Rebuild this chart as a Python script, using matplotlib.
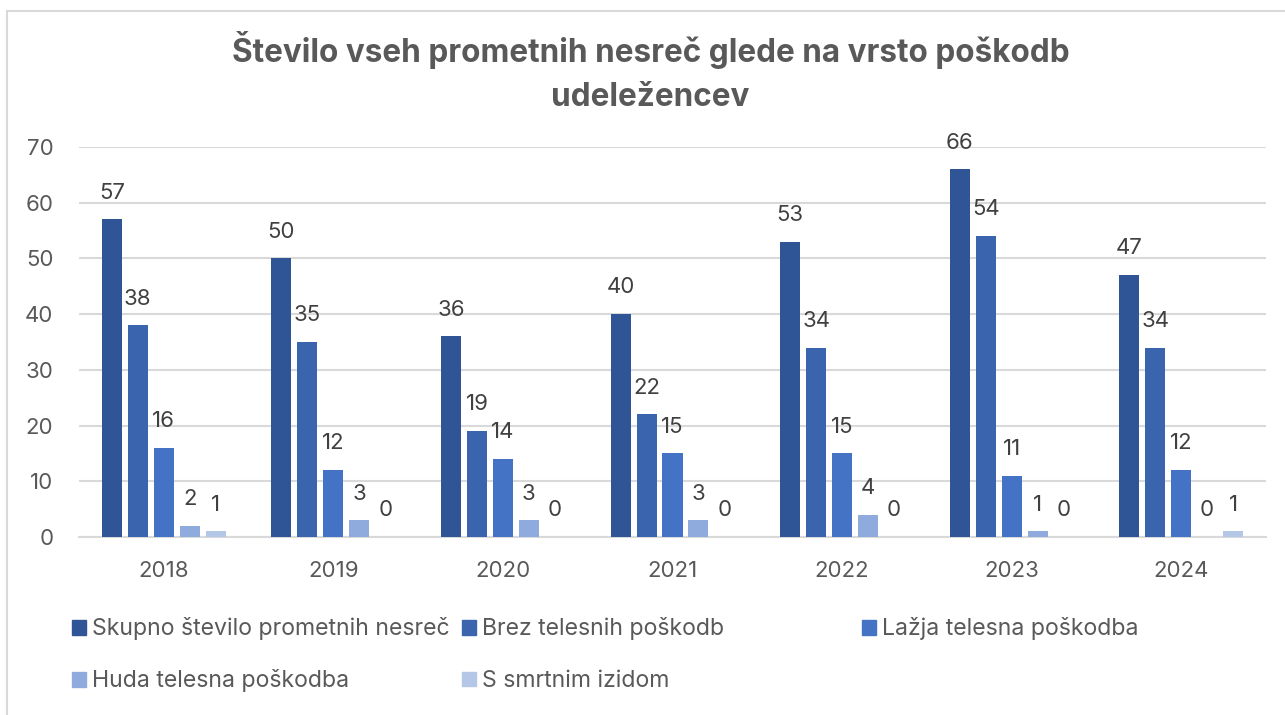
import numpy as np
import matplotlib.pyplot as plt
from matplotlib.patches import Patch, Rectangle

# podatki
leta = ['2018', '2019', '2020', '2021', '2022', '2023', '2024']
skupno = [57, 50, 36, 40, 53, 66, 47]
brez_poskodb = [38, 35, 19, 22, 34, 54, 34]
lazja = [16, 12, 14, 15, 15, 11, 12]
huda = [2, 3, 3, 3, 4, 1, 0]
smrtni = [1, 0, 0, 0, 0, 0, 1]

serije = ['Skupno število prometnih nesreč', 'Brez telesnih poškodb',
          'Lažja telesna poškodba', 'Huda telesna poškodba', 'S smrtnim izidom']
barve = ['#2F5597', '#3A64AE', '#4472C4', '#8FAADC', '#B4C7E7']

plt.rcParams['font.family'] = ['Inter', 'DejaVu Sans']

fig = plt.figure(figsize=(12.85, 7.15), dpi=100)
ax = fig.add_axes([79 / 1285, 1 - 537 / 715, (1266 - 79) / 1285, (537 - 147) / 715])

x = np.arange(len(leta))
sirina = 0.118
korak = 0.153
for i, (vals, barva) in enumerate(zip([skupno, brez_poskodb, lazja, huda, smrtni], barve)):
    pos = x + (i - 2) * korak
    bars = ax.bar(pos, vals, width=sirina, color=barva, zorder=3)
    ax.bar_label(bars, padding=12, fontsize=16, color='#404040')

ax.set_xlim(-0.5, len(leta) - 0.5)
ax.set_ylim(0, 70)
ax.set_yticks(range(0, 71, 10))
ax.set_xticks(x)
ax.set_xticklabels(leta)
ax.tick_params(axis='both', length=0, labelsize=16, labelcolor='#595959')
ax.tick_params(axis='y', pad=18.5)
ax.tick_params(axis='x', pad=17)
ax.grid(axis='y', color='#D9D9D9', linewidth=1.5, zorder=0)
for s in ['top', 'right', 'left']:
    ax.spines[s].set_visible(False)
ax.spines['bottom'].set_color('#D9D9D9')
ax.spines['bottom'].set_linewidth(1.5)

fig.text(0.5062, 1 - 62 / 715, 'Število vseh prometnih nesreč glede na vrsto poškodb',
         ha='center', va='baseline', fontsize=22.7, fontweight='bold', color='#595959')
fig.text(0.5062, 1 - 106 / 715, 'udeležencev',
         ha='center', va='baseline', fontsize=22.7, fontweight='bold', color='#595959')

# legenda - vsak element posebej
mesta = [(72, 629), (462, 629), (862, 629), (72, 681), (462, 681)]
for ime, barva, (px, py) in zip(serije, barve, mesta):
    fig.legend(handles=[Patch(color=barva)], labels=[ime],
               loc='center left', bbox_to_anchor=(px / 1285, 1 - py / 715),
               frameon=False, fontsize=16.6, labelcolor='#595959',
               handlelength=0.6, handleheight=0.6, handletextpad=0.25,
               borderpad=0, borderaxespad=0)

# okvir grafa
fig.patches.append(Rectangle((7 / 1285, -0.1), 1.2, 1 - 11 / 715 + 0.1,
                             transform=fig.transFigure, fill=False,
                             edgecolor='#D9D9D9', linewidth=1.5))

fig.savefig('out.png', dpi=100, facecolor='white')
